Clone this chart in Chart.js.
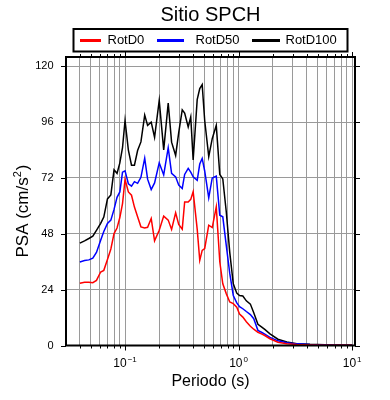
<!DOCTYPE html>
<html><head><meta charset="utf-8">
<script src="https://cdn.jsdelivr.net/npm/chart.js@4.4.1/dist/chart.umd.min.js"></script>
<style>html,body{margin:0;padding:0;background:#fff}canvas{display:block}</style>
</head><body>
<canvas id="c" width="390" height="400"></canvas>
<script>
const chartTitle = 'Sitio SPCH';
const xTitle = 'Periodo (s)';
const yTitleMain = 'PSA (cm/s';
const yTitleSup = '2';
const yTitleEnd = ')';
const seriesNames = ['RotD0', 'RotD50', 'RotD100'];
const seriesColors = ['#ff0000', '#0000ff', '#000000'];

const periods = [0.040,0.044,0.048,0.052,0.056,0.061,0.065,0.070,0.075,0.080,0.085,0.090,0.095,0.100,0.107,0.114,0.121,0.129,0.138,0.149,0.158,0.170,0.182,0.200,0.219,0.240,0.257,0.279,0.297,0.319,0.335,0.360,0.379,0.398,0.432,0.455,0.478,0.503,0.546,0.586,0.636,0.683,0.726,0.779,0.836,0.898,0.964,1.02,1.09,1.17,1.27,1.36,1.48,1.59,1.70,1.89,2.22,2.66,3.26,4.25,5.77,7.82,10.0];

const rotD0 = [26.8,27.2,27.2,27.0,28.0,31.6,32.3,37.0,41.5,48.1,50.5,55.0,61.0,71.4,66.0,64.6,59.5,55.3,51.0,50.5,50.8,54.6,45.0,49.5,55.6,53.9,49.9,57.0,52.0,50.0,61.7,61.7,62.8,66.1,50.0,36.6,40.9,41.7,51.7,50.7,59.6,36.0,26.5,22.3,18.7,18.0,16.5,13.5,12.2,10.2,8.3,7.0,5.7,5.0,4.3,2.9,1.4,0.8,0.4,0.25,0.15,0.1,0.1];

const rotD50 = [35.9,36.5,36.8,37.5,40.0,45.2,49.0,52.5,53.9,58.5,63.7,66.0,74.5,75.1,69.5,68.5,70.4,69.7,72.3,80.5,71.5,67.0,69.9,78.5,73.3,85.0,74.0,72.5,69.0,67.5,73.5,76.1,74.5,72.5,71.0,78.0,80.4,75.0,63.5,72.0,72.8,56.0,55.3,43.0,31.0,21.5,18.3,16.7,15.8,14.6,13.3,11.5,6.5,5.7,4.9,3.5,2.0,1.2,0.7,0.4,0.25,0.15,0.15];

const rotD100 = [44.0,45.0,46.0,47.0,49.5,52.5,55.2,63.0,64.7,75.5,74.0,78.5,85.0,96.7,84.0,77.5,77.5,83.8,87.5,99.0,94.6,96.0,89.5,105.3,84.1,104.2,87.4,81.7,91.5,101.3,99.9,93.9,98.2,79.8,105.7,110.4,112.1,96.7,81.2,88.9,94.6,73.5,71.6,57.5,40.0,26.5,22.5,21.5,21.3,19.2,17.8,14.1,9.1,8.0,6.9,5.0,2.7,1.5,0.8,0.5,0.35,0.25,0.2];

const yTicks = [0, 24, 48, 72, 96, 120];
const xGridTicks = [0.04,0.05,0.06,0.07,0.08,0.09,0.1,0.2,0.3,0.4,0.5,0.6,0.7,0.8,0.9,1,2,3,4,5,6,7,8,9,10];
const xMajorTicks = [0.1, 1, 10];
const xMajorBase = ['10', '10', '10'];
const xMajorExp = ['\u22121', '0', '1'];

const FONT = "'Liberation Sans', Arial, Helvetica, sans-serif";
const seriesData = [rotD0, rotD50, rotD100];

const decor = {
  id: 'decor',
  afterDraw(chart) {
    const ctx = chart.ctx, a = chart.chartArea;
    const xs = chart.scales.x, ys = chart.scales.y;
    ctx.save();
    // frame
    ctx.strokeStyle = '#000';
    ctx.lineWidth = 2;
    ctx.strokeRect(a.left, a.top, a.right - a.left, a.bottom - a.top);
    // x tick marks (bottom and top)
    ctx.lineWidth = 1;
    xGridTicks.forEach(v => {
      const px = Math.round(xs.getPixelForValue(v)) + 0.5;
      const len = xMajorTicks.includes(v) ? 5 : 3;
      ctx.beginPath();
      ctx.moveTo(px, a.bottom); ctx.lineTo(px, a.bottom + len);
      ctx.moveTo(px, a.top); ctx.lineTo(px, a.top - len);
      ctx.stroke();
    });
    // y tick marks (left and right)
    yTicks.forEach(v => {
      const py = Math.round(ys.getPixelForValue(v)) + 0.5;
      ctx.beginPath();
      ctx.moveTo(a.left - 5, py); ctx.lineTo(a.left, py);
      ctx.moveTo(a.right, py); ctx.lineTo(a.right + 5, py);
      ctx.stroke();
    });
    // x tick labels with exponents
    ctx.fillStyle = '#000';
    ctx.textBaseline = 'alphabetic';
    xMajorTicks.forEach((v, i) => {
      const px = xs.getPixelForValue(v);
      ctx.font = '12px ' + FONT;
      const wb = ctx.measureText(xMajorBase[i]).width;
      ctx.font = '8px ' + FONT;
      const we = ctx.measureText(xMajorExp[i]).width;
      const x0 = px - (wb + 1 + we) / 2;
      ctx.font = '12px ' + FONT;
      ctx.textAlign = 'left';
      ctx.fillText(xMajorBase[i], x0, 367);
      ctx.font = '8px ' + FONT;
      ctx.fillText(xMajorExp[i], x0 + wb + 1, 362);
    });
    // x axis title
    ctx.textAlign = 'center';
    ctx.textBaseline = 'middle';
    ctx.font = '16px ' + FONT;
    ctx.fillText(xTitle, (a.left + a.right) / 2, 382);
    // y axis title (rotated, with superscript)
    ctx.save();
    ctx.translate(22, 211);
    ctx.rotate(-Math.PI / 2);
    ctx.textAlign = 'left';
    ctx.textBaseline = 'alphabetic';
    ctx.font = '17px ' + FONT;
    const w1 = ctx.measureText(yTitleMain).width;
    const w3 = ctx.measureText(yTitleEnd).width;
    ctx.font = '11px ' + FONT;
    const w2 = ctx.measureText(yTitleSup).width;
    const total = w1 + w2 + 1 + w3;
    let tx = -total / 2;
    ctx.font = '17px ' + FONT;
    ctx.fillText(yTitleMain, tx, 6);
    tx += w1;
    ctx.font = '11px ' + FONT;
    ctx.fillText(yTitleSup, tx, -1);
    tx += w2 + 1;
    ctx.font = '17px ' + FONT;
    ctx.fillText(yTitleEnd, tx, 6);
    ctx.restore();
    // title
    ctx.textAlign = 'center';
    ctx.textBaseline = 'middle';
    ctx.font = '20px ' + FONT;
    ctx.fillText(chartTitle, (a.left + a.right) / 2, 15);
    // legend
    ctx.lineWidth = 2;
    ctx.strokeStyle = '#000';
    ctx.strokeRect(73.5, 29, 274, 22.5);
    const items = [
      {x1: 80, x2: 101, tx: 107.5},
      {x1: 157, x2: 184, tx: 195.5},
      {x1: 252, x2: 280, tx: 285.5}
    ];
    ctx.font = '13px ' + FONT;
    ctx.textAlign = 'left';
    items.forEach((it, i) => {
      ctx.strokeStyle = seriesColors[i];
      ctx.lineWidth = 3;
      ctx.beginPath();
      ctx.moveTo(it.x1, 40.5); ctx.lineTo(it.x2, 40.5);
      ctx.stroke();
      ctx.fillStyle = '#000';
      ctx.fillText(seriesNames[i], it.tx, 40.5);
    });
    ctx.restore();
  }
};

new Chart(document.getElementById('c'), {
  type: 'line',
  data: {
    datasets: seriesData.map((arr, i) => ({
      label: seriesNames[i],
      data: periods.map((p, j) => ({x: p, y: arr[j]})),
      borderColor: seriesColors[i],
      borderWidth: 1.5,
      pointRadius: 0,
      tension: 0,
      fill: false
    }))
  },
  options: {
    responsive: false,
    devicePixelRatio: 1,
    animation: false,
    layout: {padding: {top: 57, right: 35, left: 0, bottom: 0}},
    plugins: {legend: {display: false}, title: {display: false}, tooltip: {enabled: false}},
    scales: {
      x: {
        type: 'logarithmic',
        min: 0.0302,
        max: 10.6,
        afterBuildTicks: s => { s.ticks = xGridTicks.map(v => ({value: v})); },
        afterFit: s => { s.height = 54.5; },
        ticks: {display: false},
        grid: {color: '#9a9a9a', lineWidth: 1, drawTicks: false},
        border: {display: false}
      },
      y: {
        type: 'linear',
        min: 0,
        max: 124,
        afterBuildTicks: s => { s.ticks = yTicks.map(v => ({value: v})); },
        afterFit: s => { s.width = 66; },
        ticks: {color: '#000', font: {family: FONT, size: 11}, padding: 12.5},
        grid: {color: '#9a9a9a', lineWidth: 1, drawTicks: false},
        border: {display: false}
      }
    }
  },
  plugins: [decor]
});
</script>
</body></html>
